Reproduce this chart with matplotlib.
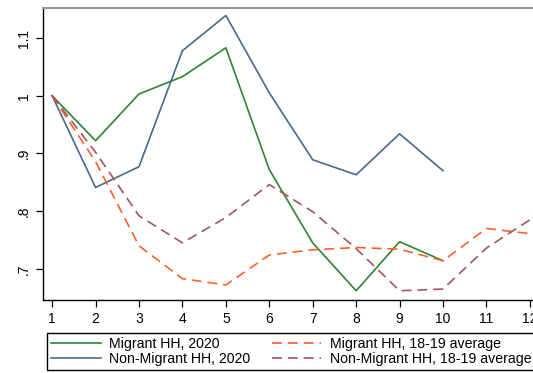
import numpy as np
import matplotlib.pyplot as plt

plt.rcParams['font.family'] = ['Liberation Sans', 'DejaVu Sans']

months = np.arange(1, 13)

migrant_2020 = [1.0, 0.922, 1.003, 1.033, 1.083, 0.872, 0.745, 0.662, 0.747, 0.714]
nonmigrant_2020 = [1.0, 0.841, 0.877, 1.078, 1.139, 1.005, 0.889, 0.863, 0.934, 0.870]
migrant_avg = [1.0, 0.886, 0.740, 0.683, 0.672, 0.724, 0.733, 0.737, 0.734, 0.714, 0.770, 0.761]
nonmigrant_avg = [1.0, 0.902, 0.792, 0.745, 0.789, 0.846, 0.799, 0.735, 0.662, 0.665, 0.736, 0.785]

yticks = [0.7, 0.8, 0.9, 1.0, 1.1]
ytick_labels = ['.7', '.8', '.9', '1', '1.1']

fig = plt.figure(figsize=(5.33, 3.73), dpi=100)
ax = fig.add_axes([43/533, 73/373, 496/533, 292/373])

dash = (0, (6, 3.5))
ax.plot(months[:10], migrant_2020, color='#2e8530', lw=1.2, label='Migrant HH, 2020')
ax.plot(months[:10], nonmigrant_2020, color='#46698f', lw=1.2, label='Non-Migrant HH, 2020')
ax.plot(months, migrant_avg, color='#ff5f2a', lw=1.2, ls=dash,
        label='Migrant HH, 18-19 average')
ax.plot(months, nonmigrant_avg, color='#a5545c', lw=1.2, ls=dash,
        label='Non-Migrant HH, 18-19 average')

ax.set_xlim(0.79, 12.21)
ax.set_ylim(0.646, 1.152)
ax.set_xticks(months)
ax.set_yticks(yticks)
ax.set_yticklabels(ytick_labels, rotation=90, va='center')
ax.tick_params(labelsize=10, length=5, width=0.9, direction='out')

for side in ['left', 'bottom']:
    ax.spines[side].set_color('black')
    ax.spines[side].set_linewidth(1.0)
ax.spines['top'].set_color('#999999')
ax.spines['top'].set_linewidth(1.5)
ax.spines['right'].set_visible(False)

leg = fig.legend(loc='upper left', bbox_to_anchor=(47/533, 40/373), ncol=2,
                 fontsize=10.2, handlelength=3.5, columnspacing=1.5,
                 handletextpad=0.6, labelspacing=0.05, borderpad=0.3,
                 borderaxespad=0, fancybox=False, edgecolor='black', framealpha=1)
leg.get_frame().set_linewidth(1.0)

fig.savefig('out.png', dpi=100)
